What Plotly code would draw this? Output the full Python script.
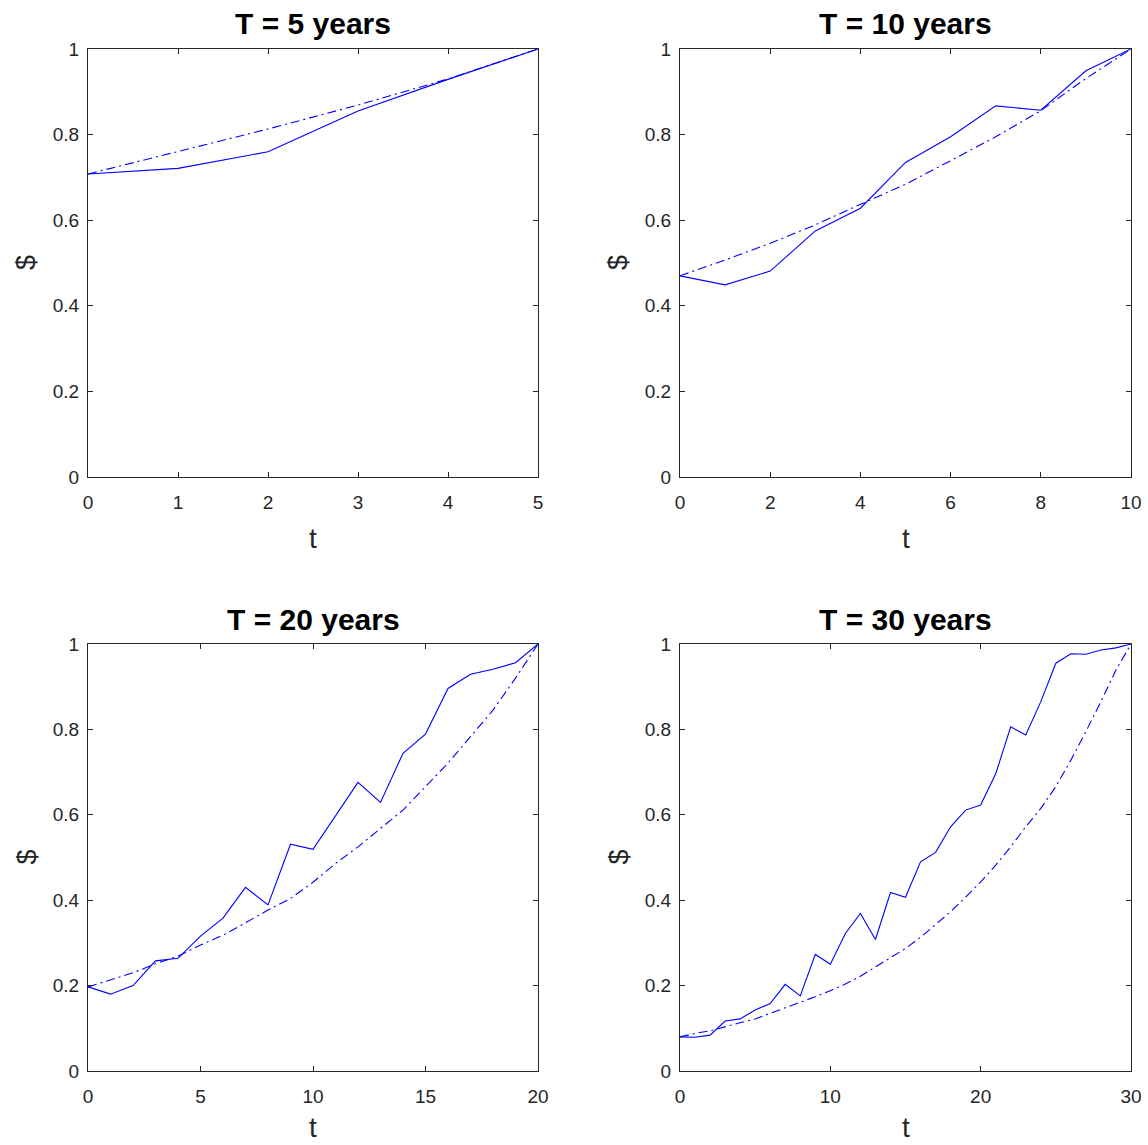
import plotly.graph_objects as go

# Discount-bond price paths: simulated (solid) vs. model curve (dash-dot)
t5 = [0, 1, 2, 3, 4, 5]
sim5 = [0.708, 0.721, 0.760, 0.855, 0.929, 1.0]
model5 = [0.708, 0.760, 0.813, 0.869, 0.930, 1.0]

t10 = list(range(11))
sim10 = [0.470, 0.449, 0.481, 0.575, 0.628, 0.735, 0.795, 0.867, 0.857, 0.949, 1.0]
model10 = [0.470, 0.507, 0.546, 0.589, 0.637, 0.684, 0.739, 0.795, 0.856, 0.931, 1.0]

t20 = list(range(21))
sim20 = [0.197, 0.180, 0.200, 0.258, 0.264, 0.316, 0.358, 0.430, 0.389, 0.531,
         0.519, 0.597, 0.676, 0.629, 0.744, 0.789, 0.896, 0.929, 0.941, 0.956, 1.0]
model20 = [0.197, 0.213, 0.230, 0.251, 0.269, 0.295, 0.318, 0.347, 0.377, 0.404,
           0.442, 0.486, 0.525, 0.568, 0.611, 0.666, 0.721, 0.783, 0.845, 0.920, 1.0]

t30 = list(range(31))
sim30 = [0.080, 0.079, 0.084, 0.117, 0.122, 0.143, 0.158, 0.203, 0.176, 0.273,
         0.250, 0.322, 0.369, 0.308, 0.418, 0.407, 0.490, 0.512, 0.572, 0.611,
         0.623, 0.696, 0.806, 0.787, 0.865, 0.955, 0.977, 0.976, 0.986, 0.991, 1.0]
model30 = [0.080, 0.088, 0.094, 0.104, 0.113, 0.122, 0.135, 0.147, 0.160, 0.174,
           0.188, 0.204, 0.222, 0.243, 0.264, 0.287, 0.313, 0.342, 0.373, 0.407,
           0.443, 0.482, 0.525, 0.572, 0.615, 0.666, 0.728, 0.795, 0.865, 0.939, 1.0]

titles = ["T = 5 years", "T = 10 years", "T = 20 years", "T = 30 years"]
x_ticks = [[0, 1, 2, 3, 4, 5], [0, 2, 4, 6, 8, 10], [0, 5, 10, 15, 20], [0, 10, 20, 30]]
y_ticks = [0, 0.2, 0.4, 0.6, 0.8, 1]
y_tick_text = ["0", "0.2", "0.4", "0.6", "0.8", "1"]

panels = [(t5, sim5, model5), (t10, sim10, model10), (t20, sim20, model20), (t30, sim30, model30)]

W, H = 1148, 1145
# pixel boxes of each axes: (left, right, top, bottom)
boxes = [(88, 538, 49, 477), (680, 1131, 49, 477), (88, 538, 644, 1071), (680, 1131, 644, 1071)]

FONT = "Liberation Sans, Arial, Helvetica, sans-serif"
AXC = "#262626"
BLUE = "#0000ff"

fig = go.Figure()
annotations = []
layout = {}
for i, ((t, sim, model), (l, r, tp, b)) in enumerate(zip(panels, boxes)):
    n = "" if i == 0 else str(i + 1)
    xa, ya = "x" + n, "y" + n
    fig.add_trace(go.Scatter(x=t, y=sim, mode="lines", xaxis=xa, yaxis=ya,
                             line=dict(color=BLUE, width=1.1), showlegend=False))
    fig.add_trace(go.Scatter(x=t, y=model, mode="lines", xaxis=xa, yaxis=ya,
                             line=dict(color=BLUE, width=1.1, dash="9px,4px,2px,4px"),
                             showlegend=False))
    common = dict(showgrid=False, zeroline=False, showline=True, linecolor=AXC, linewidth=1,
                  mirror="ticks", ticks="inside", ticklen=5, tickcolor=AXC, tickwidth=1,
                  automargin=False,
                  tickfont=dict(family=FONT, size=19, color=AXC))
    layout["xaxis" + n] = dict(common, domain=[l / W, r / W], anchor=ya,
                               range=[t[0], t[-1]], tickvals=x_ticks[i],
                               ticktext=[str(v) for v in x_ticks[i]],
                               ticklabelstandoff=8)
    layout["yaxis" + n] = dict(common, domain=[1 - b / H, 1 - tp / H], anchor=xa,
                               range=[0, 1], tickvals=y_ticks, ticktext=y_tick_text,
                               ticklabelstandoff=4)
    cx = (l + r) / 2
    annotations.append(dict(text="<b>" + titles[i] + "</b>", xref="paper", yref="paper",
                            x=cx / W, y=1 - (tp - 25) / H, showarrow=False,
                            font=dict(family=FONT, size=30, color="black"),
                            xanchor="center", yanchor="middle"))
    # x-axis label sits just under the tick labels, kept inside the page
    t_off = 62 if i < 2 else 56
    annotations.append(dict(text="t", xref="paper", yref="paper",
                            x=cx / W, y=1 - (b + t_off) / H, showarrow=False,
                            font=dict(family=FONT, size=28, color=AXC),
                            xanchor="center", yanchor="middle"))
    annotations.append(dict(text="$", xref="paper", yref="paper",
                            x=(l - 62) / W, y=1 - ((tp + b) / 2) / H, showarrow=False,
                            textangle=-90, font=dict(family=FONT, size=27, color=AXC),
                            xanchor="center", yanchor="middle"))

fig.update_layout(width=W, height=H, margin=dict(l=0, r=0, t=0, b=0),
                  paper_bgcolor="white", plot_bgcolor="white",
                  annotations=annotations, **layout)
fig.write_html("out.html")
